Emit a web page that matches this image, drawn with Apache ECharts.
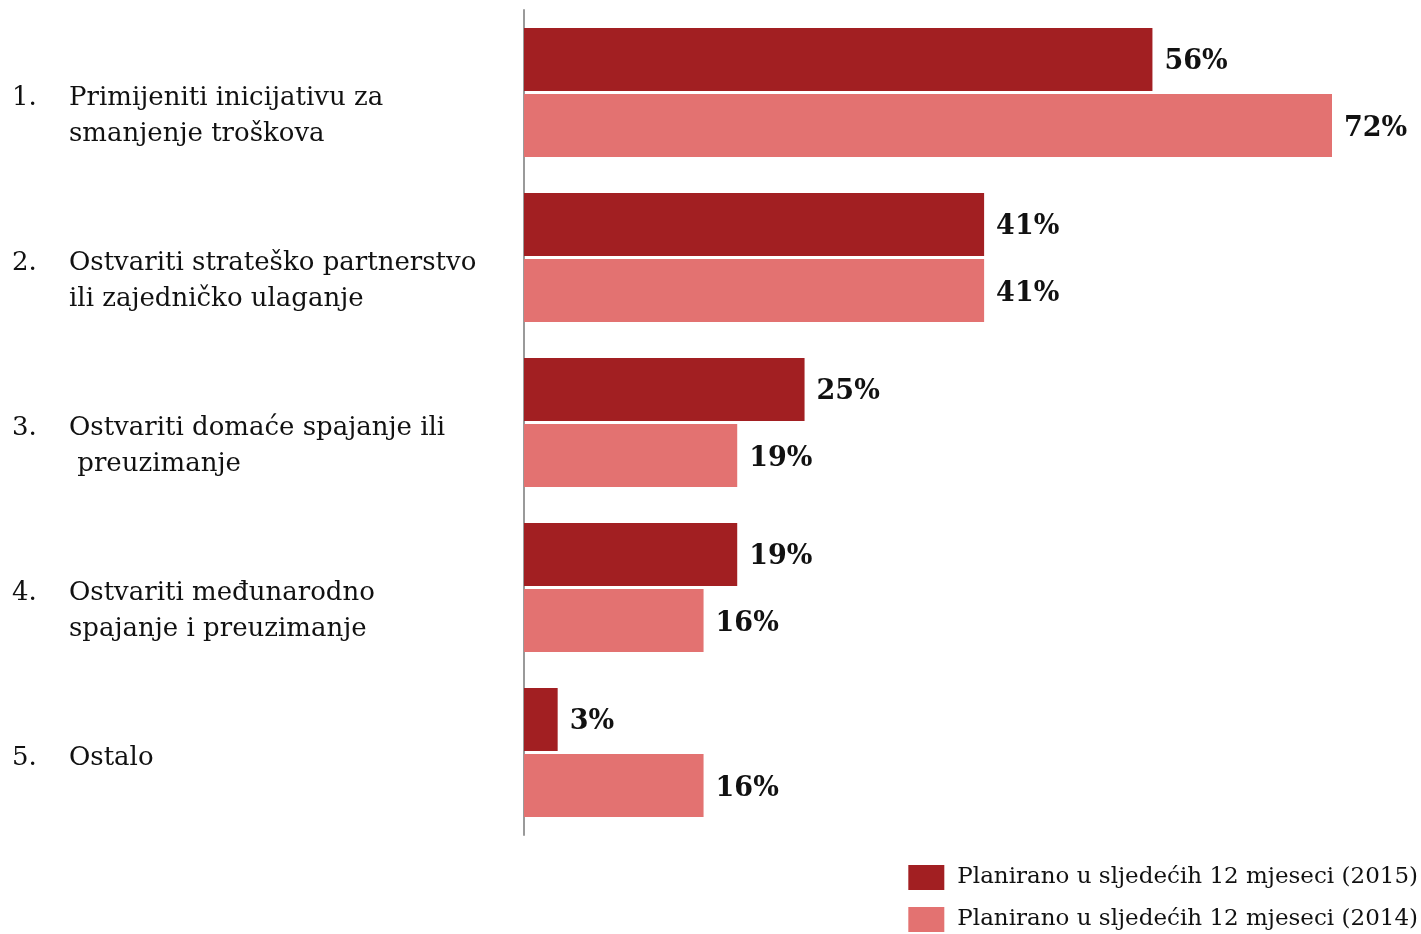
<!DOCTYPE html>
<html>
<head>
<meta charset="utf-8">
<script src="https://cdn.jsdelivr.net/npm/echarts@6/dist/echarts.min.js"></script>
<style>html,body{margin:0;padding:0;background:#fff}#c{width:1421px;height:934px}</style>
</head>
<body>
<div id="c"></div>
<script>
const categoryNumbers = ['1.', '2.', '3.', '4.', '5.'];
const categoryLines = [
  ['Primijeniti inicijativu za', 'smanjenje troškova'],
  ['Ostvariti strateško partnerstvo', 'ili zajedničko ulaganje'],
  ['Ostvariti domaće spajanje ili', ' preuzimanje'],
  ['Ostvariti međunarodno', 'spajanje i preuzimanje'],
  ['Ostalo']
];
const seriesNames = ['Planirano u sljedećih 12 mjeseci (2015)', 'Planirano u sljedećih 12 mjeseci (2014)'];
const values2015 = [56, 41, 25, 19, 3];
const values2014 = [72, 41, 19, 16, 16];

const FONT = 'DejaVu Serif';
const chart = echarts.init(document.getElementById('c'), null, {renderer: 'canvas'});

chart.setOption({
  animation: false,
  grid: { left: 524, right: 89, top: 10, bottom: 99, containLabel: false, outerBoundsMode: 'none' },
  legend: {
    orient: 'vertical', right: 3, bottom: 2, padding: 0, itemWidth: 36, itemHeight: 25, itemGap: 17,
    icon: 'rect',
    textStyle: { fontFamily: FONT, fontSize: 23, color: '#111', padding: [0, 0, 0, 8] },
    data: seriesNames
  },
  xAxis: {
    type: 'value', min: 0, max: 72, show: false
  },
  yAxis: {
    type: 'category', inverse: true, data: categoryNumbers,
    axisLine: { show: true, lineStyle: { color: '#9a9a9a', width: 2 } },
    axisTick: { show: false },
    axisLabel: {
      align: 'left', margin: 512, verticalAlign: 'middle', hideOverlap: false,
      formatter: function (v, idx) {
        const lines = categoryLines[idx];
        let s = (lines.length > 1 ? '{sp2| }' : '{sp1| }') + '\n';
        s += '{n|' + categoryNumbers[idx] + '}{t|' + lines[0] + '}';
        for (let k = 1; k < lines.length; k++) s += '\n{n| }{t|' + lines[k] + '}';
        return s;
      },
      rich: {
        sp1: { fontSize: 4, lineHeight: 12 },
        sp2: { fontSize: 4, lineHeight: 48 },
        n: { width: 57, fontFamily: FONT, fontSize: 26, color: '#111', lineHeight: 36 },
        t: { fontFamily: FONT, fontSize: 26, color: '#111', lineHeight: 36 }
      }
    }
  },
  series: [
    {
      name: seriesNames[0], type: 'bar', data: values2015, barWidth: 63, barGap: '5%',
      itemStyle: { color: '#A21F22' },
      label: { show: true, position: 'right', distance: 12, offset: [0, 3], formatter: '{c}%',
        fontFamily: FONT, fontWeight: 'bold', fontSize: 27, color: '#111' }
    },
    {
      name: seriesNames[1], type: 'bar', data: values2014, barWidth: 63, barGap: '5%',
      itemStyle: { color: '#E37271' },
      label: { show: true, position: 'right', distance: 12, offset: [0, 3], formatter: '{c}%',
        fontFamily: FONT, fontWeight: 'bold', fontSize: 27, color: '#111' }
    }
  ]
});
</script>
</body>
</html>
